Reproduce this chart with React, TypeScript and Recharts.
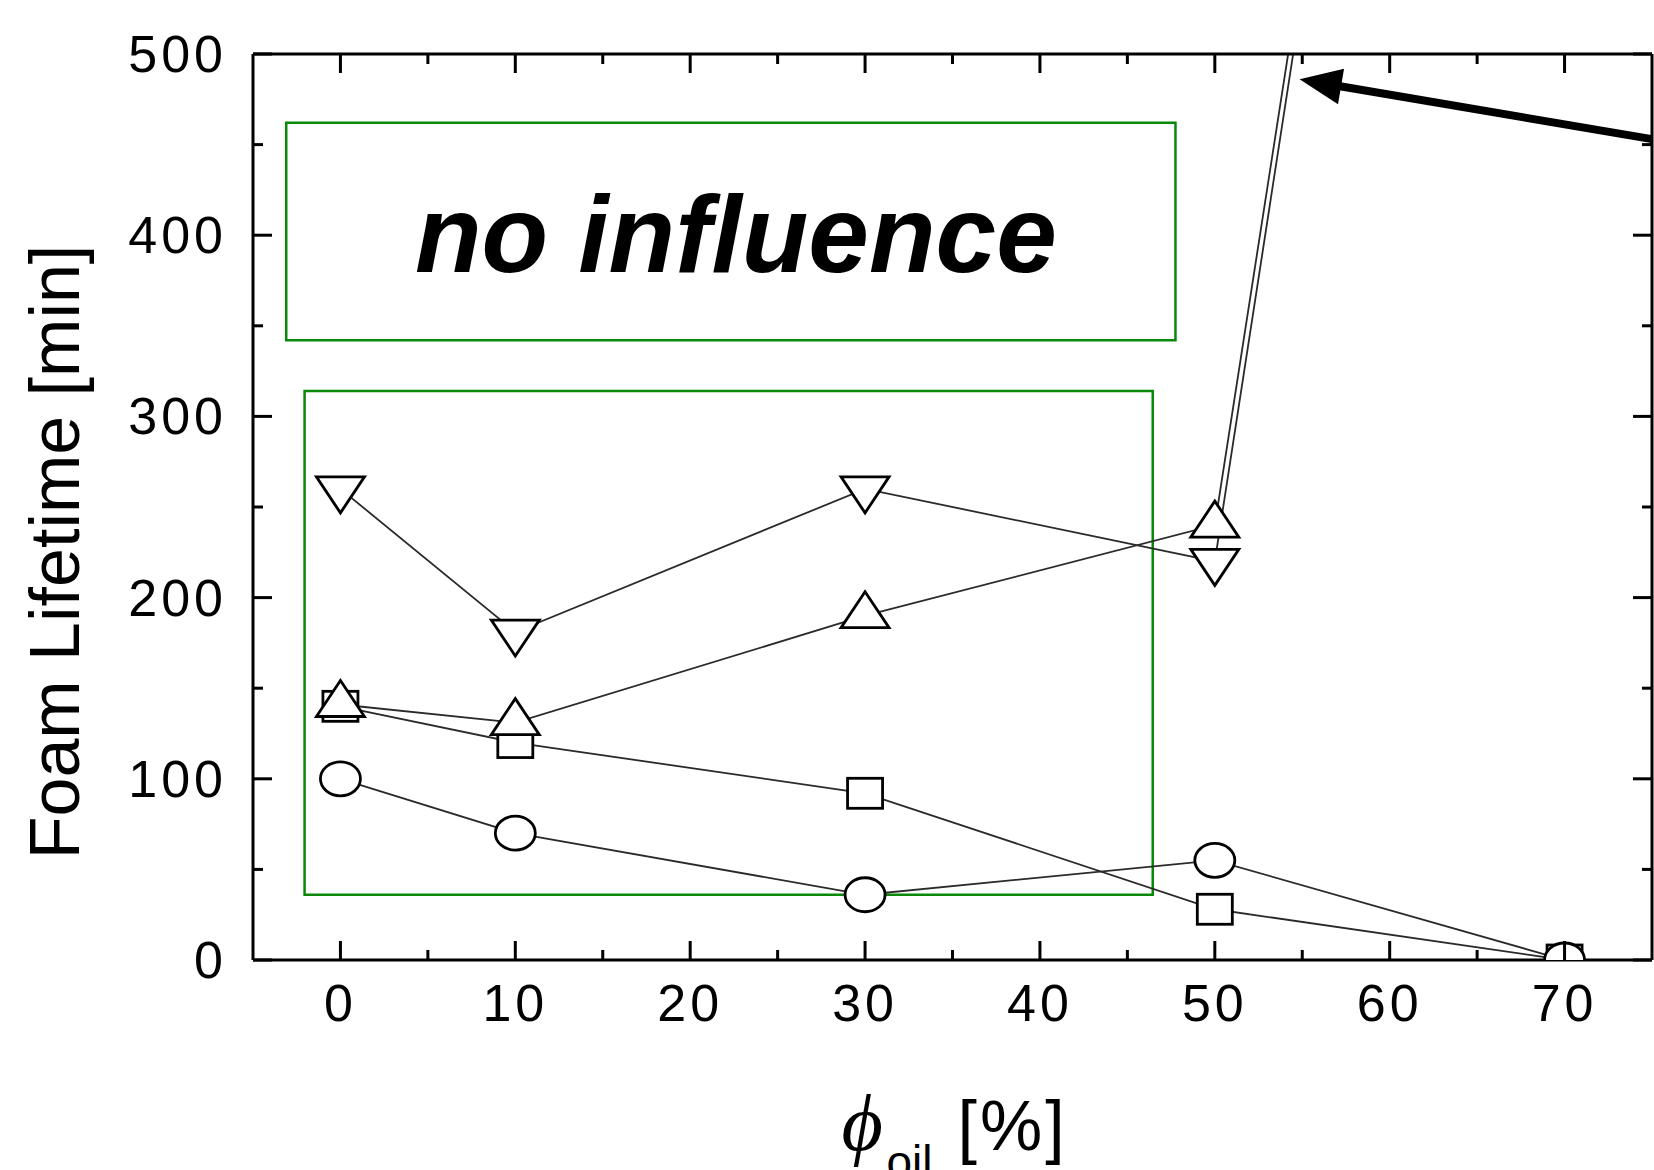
import React from 'react';
import {
  LineChart, Line, XAxis, YAxis, ReferenceArea, ReferenceLine, Label,
} from 'recharts';

// oil volume fraction [%]
const phiOil = [0, 10, 30, 50, 70];
// foam lifetime [min] per marker series
const circleLife = [100, 70, 36, 55, 0];
const squareLife = [140, 120, 92, 28, 0];
const upTriLife = [141, 131, 190, 240, 1480];
const downTriLife = [260, 181, 260, 220, 1470];

const xTicks = [0, 5, 10, 15, 20, 25, 30, 35, 40, 45, 50, 55, 60, 65, 70];
const yTicks = [0, 50, 100, 150, 200, 250, 300, 350, 400, 450, 500];

// annotation boxes in data units
const noInfluenceBox = { x1: -3.1, x2: 47.75, y1: 342, y2: 462 };
const dataBox = { x1: -2.05, x2: 46.45, y1: 36, y2: 314 };
const arrowFrom = { x: 75, y: 453 };
const arrowTo = { x: 54.85, y: 486 };

const data = phiOil.map((x, i) => ({
  x,
  circle: circleLife[i],
  square: squareLife[i],
  up: upTriLife[i],
  down: downTriLife[i],
}));

const SANS = '"Liberation Sans", Arial, Helvetica, sans-serif';
const GREEN = '#0a880a';
const MAJOR = 19;
const MINOR = 10;

const markerStyle = { stroke: '#000', strokeWidth: 2.8, fill: '#fff' };

const CircleDot = (p: any) => (
  <ellipse key={p.index} cx={p.cx} cy={p.cy} rx={20} ry={17} {...markerStyle} />
);
const SquareDot = (p: any) => (
  <rect key={p.index} x={p.cx - 17.5} y={p.cy - 15} width={35} height={30} {...markerStyle} />
);
const UpDot = (p: any) => (
  <polygon
    key={p.index}
    points={`${p.cx},${p.cy - 24} ${p.cx + 24},${p.cy + 12} ${p.cx - 24},${p.cy + 12}`}
    {...markerStyle}
  />
);
const DownDot = (p: any) => (
  <polygon
    key={p.index}
    points={`${p.cx},${p.cy + 24} ${p.cx + 24},${p.cy - 12} ${p.cx - 24},${p.cy - 12}`}
    {...markerStyle}
  />
);

// inward pointing ticks for all four sides
const BottomTick = (p: any) => {
  const v = p.payload.value;
  const len = v % 10 === 0 ? MAJOR : MINOR;
  return (
    <g>
      <line x1={p.x} y1={p.y} x2={p.x} y2={p.y - len} stroke="#000" strokeWidth={3} />
      {v % 10 === 0 && (
        <text x={p.x} y={p.y + 61} textAnchor="middle" fontFamily={SANS} fontSize={52} letterSpacing={4} fill="#000">
          {v}
        </text>
      )}
    </g>
  );
};
const TopTick = (p: any) => {
  const len = p.payload.value % 10 === 0 ? MAJOR : MINOR;
  return <line x1={p.x} y1={p.y} x2={p.x} y2={p.y + len} stroke="#000" strokeWidth={3} />;
};
const LeftTick = (p: any) => {
  const v = p.payload.value;
  const len = v % 100 === 0 ? MAJOR : MINOR;
  return (
    <g>
      <line x1={p.x} y1={p.y} x2={p.x + len} y2={p.y} stroke="#000" strokeWidth={3} />
      {v % 100 === 0 && (
        <text x={p.x - 26} y={p.y + 18} textAnchor="end" fontFamily={SANS} fontSize={52} letterSpacing={4} fill="#000">
          {v}
        </text>
      )}
    </g>
  );
};
const RightTick = (p: any) => {
  const len = p.payload.value % 100 === 0 ? MAJOR : MINOR;
  return <line x1={p.x} y1={p.y} x2={p.x - len} y2={p.y} stroke="#000" strokeWidth={3} />;
};

const Arrow = (p: any) => {
  const dx = p.x2 - p.x1;
  const dy = p.y2 - p.y1;
  const d = Math.sqrt(dx * dx + dy * dy);
  const ux = dx / d;
  const uy = dy / d;
  const head = 42;
  const half = 18;
  const bx = p.x2 - ux * head;
  const by = p.y2 - uy * head;
  return (
    <g>
      <line x1={p.x1} y1={p.y1} x2={bx + ux * 4} y2={by + uy * 4} stroke="#000" strokeWidth={8} />
      <polygon
        points={`${p.x2},${p.y2} ${bx - uy * half},${by + ux * half} ${bx + uy * half},${by - ux * half}`}
        fill="#000"
      />
    </g>
  );
};

export default function App() {
  return (
    <div style={{ position: 'absolute', left: 0, top: 0, width: 1654, height: 1170, background: '#fff' }}>
      <LineChart
        width={1654}
        height={1170}
        data={data}
        margin={{ top: 53, right: 0, bottom: 0, left: 0 }}
      >
        <XAxis
          xAxisId="b"
          dataKey="x"
          type="number"
          domain={[-5, 75]}
          allowDataOverflow
          ticks={xTicks}
          interval={0}
          height={210}
          tickSize={0}
          tickMargin={0}
          tickLine={false}
          axisLine={{ stroke: '#000', strokeWidth: 3 }}
          tick={BottomTick}
        >
          <Label
            content={({ viewBox }: any) => {
              const cx = viewBox.x + viewBox.width / 2;
              const base = viewBox.y + 190;
              return (
                <text y={base} fill="#000">
                  <tspan x={cx - 111} fontFamily='"Liberation Serif", "DejaVu Serif", serif' fontStyle="italic" fontSize={80}>ϕ</tspan>
                  <tspan x={cx - 66} dy={28} fontFamily={SANS} fontSize={46}>oil</tspan>
                  <tspan x={cx + 5} dy={-28} fontFamily={SANS} fontSize={70} letterSpacing={3}>[%]</tspan>
                </text>
              );
            }}
          />
        </XAxis>
        <XAxis
          xAxisId="t"
          orientation="top"
          dataKey="x"
          type="number"
          domain={[-5, 75]}
          allowDataOverflow
          ticks={xTicks}
          interval={0}
          height={1}
          tickSize={0}
          tickMargin={0}
          tickLine={false}
          axisLine={{ stroke: '#000', strokeWidth: 3 }}
          tick={TopTick}
        />
        <YAxis
          yAxisId="l"
          type="number"
          domain={[0, 500]}
          allowDataOverflow
          ticks={yTicks}
          interval={0}
          width={253}
          tickSize={0}
          tickMargin={0}
          tickLine={false}
          axisLine={{ stroke: '#000', strokeWidth: 3 }}
          tick={LeftTick}
        >
          <Label
            content={({ viewBox }: any) => {
              const x = 79;
              const y = viewBox.y + viewBox.height / 2 + 45;
              return (
                <text x={x} y={y} transform={`rotate(-90, ${x}, ${y})`} textAnchor="middle" fontFamily={SANS} fontSize={70} fill="#000">
                  Foam Lifetime [min]
                </text>
              );
            }}
          />
        </YAxis>
        <YAxis
          yAxisId="r"
          orientation="right"
          type="number"
          domain={[0, 500]}
          allowDataOverflow
          ticks={yTicks}
          interval={0}
          width={2}
          tickSize={0}
          tickMargin={0}
          tickLine={false}
          axisLine={{ stroke: '#000', strokeWidth: 3 }}
          tick={RightTick}
        />

        <ReferenceArea
          xAxisId="b"
          yAxisId="l"
          x1={noInfluenceBox.x1}
          x2={noInfluenceBox.x2}
          y1={noInfluenceBox.y1}
          y2={noInfluenceBox.y2}
          fill="none"
          stroke={GREEN}
          strokeWidth={2.5}
          ifOverflow="visible"
        >
          <Label
            content={({ viewBox }: any) => (
              <text
                x={viewBox.x + viewBox.width / 2 + 5}
                y={viewBox.y + viewBox.height / 2 + 40}
                textAnchor="middle"
                fontFamily={SANS}
                fontWeight="bold"
                fontStyle="italic"
                fontSize={109}
                fill="#000"
              >
                no influence
              </text>
            )}
          />
        </ReferenceArea>
        <ReferenceArea
          xAxisId="b"
          yAxisId="l"
          x1={dataBox.x1}
          x2={dataBox.x2}
          y1={dataBox.y1}
          y2={dataBox.y2}
          fill="none"
          stroke={GREEN}
          strokeWidth={2.5}
          ifOverflow="visible"
        />

        <Line xAxisId="b" yAxisId="l" dataKey="square" stroke="#2a2a2a" strokeWidth={1.8} dot={SquareDot} isAnimationActive={false} />
        <Line xAxisId="b" yAxisId="l" dataKey="circle" stroke="#2a2a2a" strokeWidth={1.8} dot={CircleDot} isAnimationActive={false} />
        <Line xAxisId="b" yAxisId="l" dataKey="up" stroke="#2a2a2a" strokeWidth={1.8} dot={UpDot} isAnimationActive={false} />
        <Line xAxisId="b" yAxisId="l" dataKey="down" stroke="#2a2a2a" strokeWidth={1.8} dot={DownDot} isAnimationActive={false} />

        <ReferenceLine
          xAxisId="b"
          yAxisId="l"
          segment={[arrowFrom, arrowTo]}
          ifOverflow="visible"
          shape={Arrow}
        />
      </LineChart>
    </div>
  );
}
